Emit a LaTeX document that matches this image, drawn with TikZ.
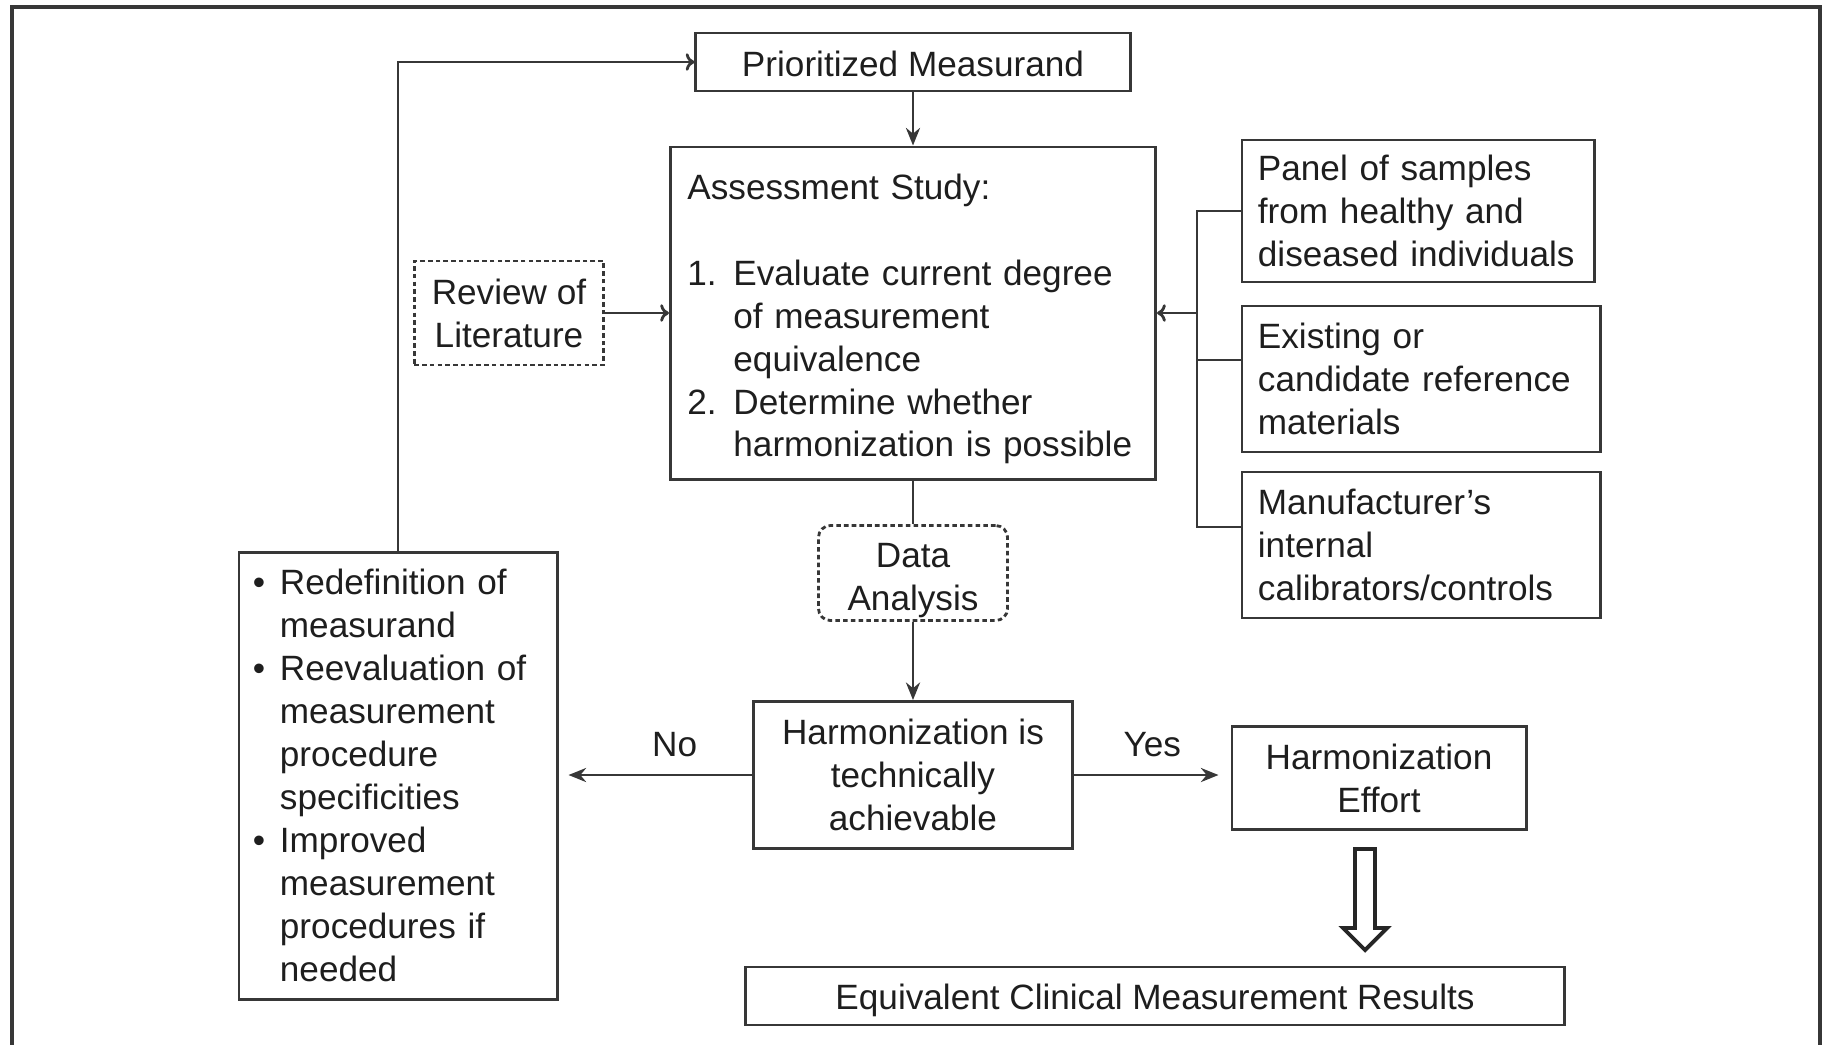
\documentclass[tikz,border=0pt]{standalone}
\usepackage{fontspec}
\setmainfont{Liberation Sans}
\usetikzlibrary{arrows.meta, calc, positioning}
\definecolor{inkgray}{RGB}{55,55,55}
\definecolor{textgray}{RGB}{30,30,30}

\begin{document}
\begin{tikzpicture}[x=0.01cm, y=-0.01cm,
        every node/.style={font=\fontsize{10pt}{12.2pt}\selectfont, text=textgray},
        box/.style={draw=inkgray, line width=0.8pt, inner sep=0pt},
        dashbox/.style={box, dash pattern=on 1.3pt off 0.9pt},
        link/.style={draw=inkgray, line width=0.8pt},
        arr/.style={link, -{Stealth[length=5pt, width=4pt]}},
        arro/.style={link, -{To[length=2.5pt, width=5pt]}}]
        \useasboundingbox (0,0) rectangle (1827,1044);

        % outer frame (runs off the bottom)
        \draw[draw=inkgray, line width=1.3pt] (12,7) rectangle (1820,1100);

        % top of the flow
        \node[box, minimum width=4.34cm, minimum height=0.58cm, text height=0.85em, text depth=0pt] (prio) at (913,62) {Prioritized Measurand};

        \node[box, text width=4.51cm, inner xsep=0.17cm, minimum height=3.32cm, align=left] (assess) at (913,313) {\rule{0pt}{12.3pt}Assessment Study:\\[12.2pt]
            \begin{tabular}[t]{@{}p{0.46cm}@{}l@{}}
                1. & Evaluate current degree\\
                   & of measurement\\
                   & equivalence\\
                2. & Determine whether\\
                   & harmonization is possible
            \end{tabular}};

        \node[dashbox, minimum width=1.89cm, minimum height=1.04cm, align=center] (review) at (509,313) {Review of\\Literature};

        % inputs on the right
        \node[box, text width=3.2cm, inner xsep=0.16cm, minimum height=1.42cm, align=left] (panel) at (1418,211) {Panel of samples\\from healthy and\\diseased individuals};
        \node[box, text width=3.26cm, inner xsep=0.16cm, minimum height=1.46cm, align=left] (exist) at (1421,379) {Existing or\\candidate reference\\materials};
        \node[box, text width=3.26cm, inner xsep=0.16cm, minimum height=1.46cm, align=left] (manuf) at (1421,545) {Manufacturer's\\internal\\calibrators/controls};

        % analysis and decision
        \node[dashbox, rounded corners=0.12cm, text width=1.89cm, minimum height=0.95cm, align=center] (data) at (913,573) {\rule{0pt}{11pt}Data\\Analysis};
        \node[box, minimum width=3.19cm, minimum height=1.47cm, align=center] (harm) at (913,775) {Harmonization is\\technically\\achievable};
        \node[box, minimum width=2.94cm, minimum height=1.03cm, align=center] (effort) at (1379,778) {Harmonization\\Effort};

        \node[box, text width=2.9cm, inner xsep=0.14cm, minimum height=4.47cm, align=left] (redef) at (398,776) {%
            \begin{tabular}[t]{@{}p{0.27cm}@{}l@{}}
                \textbullet & \rule{0pt}{10.5pt}Redefinition of\\
                            & measurand\\
                \textbullet & Reevaluation of\\
                            & measurement\\
                            & procedure\\
                            & specificities\\
                \textbullet & Improved\\
                            & measurement\\
                            & procedures if\\
                            & needed
            \end{tabular}};

        \node[box, minimum width=8.18cm, minimum height=0.58cm, text height=0.77em, text depth=0pt] (equiv) at (1155,996) {Equivalent Clinical Measurement Results};

        % bracket joining the inputs
        \coordinate (bus) at (1197,313);
        \coordinate (exjoin) at ($(exist.west)+(0,-19)$);
        \coordinate (mfjoin) at ($(manuf.west)+(0,-18)$);
        \draw[link] (panel.west) -| (bus |- mfjoin) -- (mfjoin);
        \draw[link] (exjoin) -- (exjoin -| bus);

        % Arrows
        \draw[arr] (prio) -- (assess);
        \draw[arro] (review) -- (assess);
        \draw[arro] (bus) -- (assess.east);
        \draw[link] (assess) -- (data);
        \draw[arr] (data) -- (harm);
        \draw[arr, shorten >=0.12cm] (harm.east) -- node[above=1.5pt] {Yes} (harm.east -| effort.west);
        \draw[arr, shorten >=0.1cm] (harm.west) -- node[pos=0.4, above=1.5pt] {No} (harm.west -| redef.east);
        \draw[arro] (redef.north) |- (prio.west);

        % hollow arrow to the result
        \draw[draw=black!85, line width=1.1pt, line join=miter] (1355,849) -- (1355,928) -- (1343,928) -- (1365,950) -- (1387,928) -- (1375,928) -- (1375,849) -- cycle;
\end{tikzpicture}
\end{document}
